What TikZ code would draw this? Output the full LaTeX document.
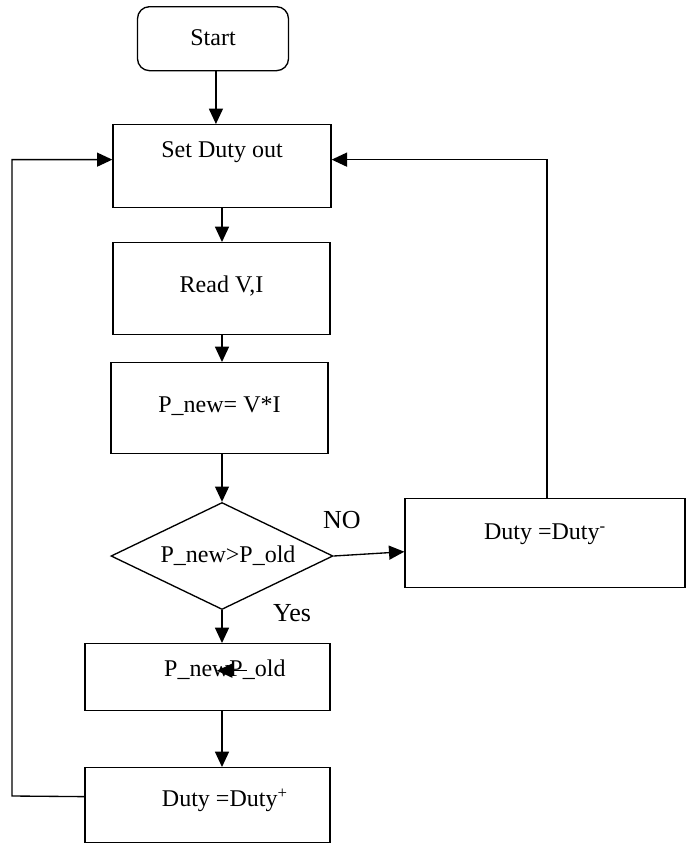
\documentclass[tikz,border=0pt]{standalone}
\usepackage{fontspec}
\setmainfont{Liberation Serif}
\usetikzlibrary{arrows.meta,shapes.geometric}

\begin{document}
\begin{tikzpicture}[x=0.75pt,y=-0.75pt,
  box/.style={draw, rectangle, line width=1pt, inner xsep=0pt, inner ysep=0pt,
    anchor=north, font=\fontsize{18}{20}\selectfont},
  arr/.style={-{Triangle[length=11.5pt,width=10.5pt]}, line width=1pt},
  lbl/.style={font=\fontsize{19.5}{22}\selectfont}]
\useasboundingbox (0,0) rectangle (691,844);

\node[box, rounded corners=9pt, minimum width=113.25pt, text height=29.25pt, text depth=18.75pt] (start) at (213,6) {Start};
\node[box, minimum width=163.5pt, text height=24.75pt, text depth=37.5pt] (setduty) at (222,124) {Set Duty out};
\node[box, minimum width=162.75pt, text height=37.5pt, text depth=31.5pt] (readvi) at (221.5,242) {Read V,I};
\node[box, minimum width=162.75pt, text height=37.5pt, text depth=30.75pt] (pnew) at (219.5,362) {P\_new= V*I};
\node[draw, diamond, aspect=2.07, line width=1pt, inner sep=0pt, minimum width=166.5pt, minimum height=80.25pt,
  font=\fontsize{18}{20}\selectfont] (dec) at (222,556) {\hspace*{9pt}P\_new>P\_old};
%\node[lbl] at (342,520) {NO};
\node[lbl] (no) at (342,520) {NO};
\node[lbl] (yes) at (292,613) {Yes};
\node[box, minimum width=210pt, text height=30.75pt, text depth=36pt] (dminus) at (545,498) {Duty =Duty\textsuperscript{-}};
\node[box, minimum width=183.75pt, text height=24.75pt, text depth=25.5pt] (pswap) at (207.5,643) {\hspace*{26pt}P\_newP\_old};
\node[box, minimum width=183.75pt, text height=29.25pt, text depth=27pt] (dplus) at (207.5,767) {\hspace*{26pt}Duty =Duty\textsuperscript{+}};

% arrow glyph over the text
\draw[arr] ([xshift=29.6pt,yshift=4.5pt]pswap.base) -- ([xshift=7.1pt,yshift=4.5pt]pswap.base);

\draw[arr] ([xshift=2.2pt]start.south) -- ([xshift=2.2pt]start.south |- setduty.north);
\draw[arr] (setduty.south) -- (setduty.south |- readvi.north);
\draw[arr] (setduty.south |- readvi.south) -- (setduty.south |- pnew.north);
\draw[arr] (pnew.south -| dec.north) -- (dec.north);
\draw[arr] (dec.east) -- ([yshift=-6.4pt]dminus.west);
\draw[arr] (dec.south) -- (dec.south |- pswap.north);
\draw[arr] (dec.south |- pswap.south) -- (dec.south |- dplus.north);

% back to Set Duty out
\coordinate (lft) at (12,796);
\draw[arr] ([xshift=1.5pt]dminus.north) |- ([yshift=4.9pt]setduty.east);
\draw[arr] ([yshift=6.4pt]dplus.west) -- (lft) |- ([yshift=4.9pt]setduty.west);
\end{tikzpicture}
\end{document}
